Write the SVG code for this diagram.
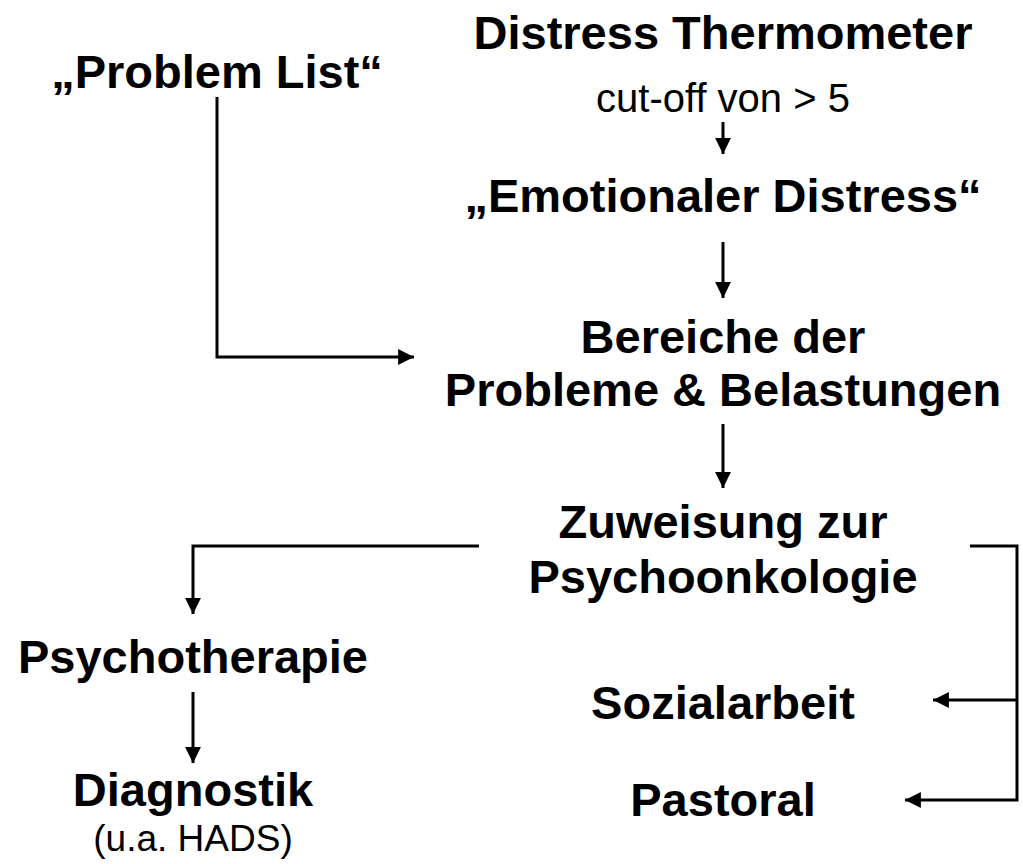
<svg xmlns="http://www.w3.org/2000/svg" width="1023" height="864" viewBox="0 0 1023 864">
<style>
.b{font-family:"Liberation Sans",Arial,sans-serif;font-weight:bold;font-size:47px;fill:#000;text-anchor:middle}
.r{font-family:"Liberation Sans",Arial,sans-serif;font-size:40px;fill:#000;text-anchor:middle}
.s{font-family:"Liberation Sans",Arial,sans-serif;font-size:37px;fill:#000;text-anchor:middle}
.c{fill:none;stroke:#000;stroke-width:3}
</style>
<defs>
<marker id="ah" viewBox="0 0 10 10" refX="10" refY="5" markerWidth="5.3" markerHeight="5.3" markerUnits="strokeWidth" orient="auto">
<path d="M0,0 L10,5 L0,10 z" fill="#000"/>
</marker>
</defs>
<rect width="1023" height="864" fill="#fff"/>
<g id="connectors">
<path class="c" d="M217,97 V357 H414" marker-end="url(#ah)"/>
<path class="c" d="M723,122 V154" marker-end="url(#ah)"/>
<path class="c" d="M723,242 V298" marker-end="url(#ah)"/>
<path class="c" d="M723,424 V488" marker-end="url(#ah)"/>
<path class="c" d="M479,546 H193 V614" marker-end="url(#ah)"/>
<path class="c" d="M193,692 V763" marker-end="url(#ah)"/>
<path class="c" d="M970,546 H1017 V800 H905" marker-end="url(#ah)"/>
<path class="c" d="M1017,700 H933" marker-end="url(#ah)"/>
</g>
<g id="problem-list"><text class="b" x="217" y="88">„Problem List“</text></g>
<g id="distress-thermometer"><text class="b" x="723" y="49">Distress Thermometer</text><text class="r" x="723" y="112">cut-off von &gt; 5</text></g>
<g id="emotionaler-distress"><text class="b" x="723" y="212">„Emotionaler Distress“</text></g>
<g id="bereiche"><text class="b" x="723" y="353">Bereiche der</text><text class="b" x="723" y="406">Probleme &amp; Belastungen</text></g>
<g id="zuweisung"><text class="b" x="723" y="538">Zuweisung zur</text><text class="b" x="723" y="593">Psychoonkologie</text></g>
<g id="psychotherapie"><text class="b" x="193" y="673">Psychotherapie</text></g>
<g id="diagnostik"><text class="b" x="193" y="806">Diagnostik</text><text class="s" x="193" y="851">(u.a. HADS)</text></g>
<g id="sozialarbeit"><text class="b" x="723" y="719">Sozialarbeit</text></g>
<g id="pastoral"><text class="b" x="723" y="816">Pastoral</text></g>
</svg>
